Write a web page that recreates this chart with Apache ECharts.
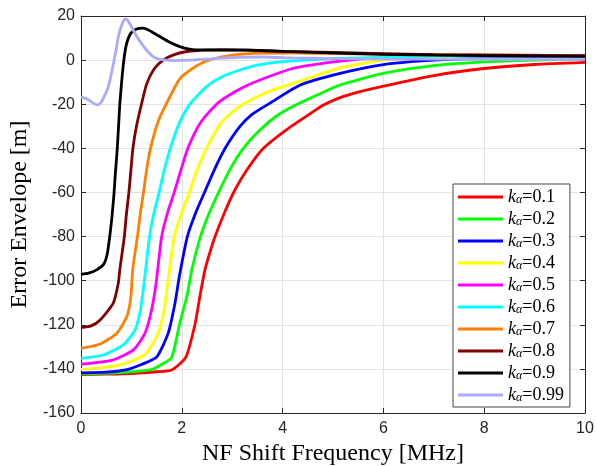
<!DOCTYPE html>
<html>
<head>
<meta charset="utf-8">
<script src="https://cdn.jsdelivr.net/npm/echarts@6/dist/echarts.min.js"></script>
<style>html,body{margin:0;padding:0;background:#fff}#c{width:596px;height:466px}</style>
</head>
<body>
<div id="c"></div>
<script>
const xTicks = [0, 2, 4, 6, 8, 10];
const yTicks = [-160, -140, -120, -100, -80, -60, -40, -20, 0, 20];
const kValues = ['0.1', '0.2', '0.3', '0.4', '0.5', '0.6', '0.7', '0.8', '0.9', '0.99'];
const colors = ['#ff0000', '#00ff00', '#0000ff', '#ffff00', '#ff00ff', '#00ffff', '#ff8000', '#800000', '#000000', '#aaaaff'];

const k01 = [[0,-142.6],[0.5,-142.4],[1,-142.1],[1.5,-141.3],[1.8,-140.5],[2.08,-134.7],[2.26,-120],[2.36,-107],[2.46,-95],[2.56,-87],[2.66,-80],[2.85,-69],[3.05,-59],[3.3,-49.5],[3.62,-40],[4.08,-31.5],[4.6,-23.5],[4.8,-20.5],[5.14,-17],[5.5,-14.5],[6,-11.8],[7,-7],[8,-3.8],[9,-2],[10,-1]];
const k02 = [[0,-142.3],[0.7,-141.8],[1.37,-140.5],[1.6,-138],[1.8,-134.7],[1.96,-119.3],[2.1,-107.2],[2.2,-95],[2.37,-80],[2.55,-69],[2.75,-59],[2.97,-49],[3.22,-40],[3.55,-31.7],[3.9,-25],[4.25,-20.5],[4.61,-16.6],[5.14,-11.3],[6,-6],[7,-2.5],[8,-0.8],[9,0],[10,0.5]];
const k03 = [[0,-141.8],[0.5,-141.5],[0.91,-140.3],[1.2,-138],[1.5,-134.7],[1.73,-123.8],[1.865,-110.2],[1.95,-98.2],[2.11,-80],[2.28,-69],[2.45,-60],[2.65,-49.5],[2.86,-40],[3.15,-30.2],[3.4,-24.5],[3.75,-19.5],[4.35,-11.3],[5.14,-6],[6,-2],[7,0],[8,0.8],[10,1.2]];
const k04 = [[0,-140.2],[0.4,-139.5],[0.77,-138.2],[1.05,-136],[1.3,-132.9],[1.53,-123.8],[1.65,-113.3],[1.72,-101.2],[1.85,-80],[2.0,-69],[2.15,-60],[2.3,-50],[2.49,-40],[2.76,-29],[3.0,-23.5],[3.22,-20],[3.6,-15.5],[3.95,-12.5],[4.61,-7.5],[5.14,-3.5],[6,0],[7,1.5],[8,2],[10,1.8]];
const k05 = [[0,-137.9],[0.64,-135.9],[1.04,-131.4],[1.27,-123.8],[1.4,-113.3],[1.49,-101.2],[1.6,-80],[1.72,-69],[1.85,-60],[1.98,-50],[2.12,-40],[2.36,-28.7],[2.69,-20],[2.89,-16.6],[3.2,-12.5],[3.55,-9],[4.2,-3.8],[5.14,-0.5],[6,1.3],[7,2],[10,2]];
const k06 = [[0,-135.2],[0.44,-133.7],[0.84,-129.1],[1.07,-122.4],[1.18,-113.3],[1.25,-101.2],[1.36,-80],[1.45,-69],[1.55,-60],[1.65,-50],[1.77,-40],[1.96,-28],[2.16,-20],[2.49,-12],[2.8,-7.5],[3.15,-4.5],[3.5,-2.3],[3.95,-0.8],[5.14,0.8],[7,1.8],[10,2]];
const k07 = [[0,-130.7],[0.38,-128.7],[0.71,-123.8],[0.91,-116.3],[0.99,-107.2],[1.025,-95],[1.12,-80],[1.18,-69],[1.24,-60],[1.3,-50],[1.38,-40],[1.52,-28.5],[1.69,-20],[1.96,-8.5],[2.2,-4],[2.43,-1],[2.75,1.3],[3.09,2.5],[3.68,3.3],[5,3],[7,2.5],[10,2]];
const k08 = [[0,-121.3],[0.2,-120.5],[0.38,-117.8],[0.64,-110.2],[0.74,-101.2],[0.77,-95],[0.86,-80],[0.9,-70],[0.95,-60],[0.99,-50],[1.03,-40],[1.1,-30],[1.2,-20],[1.3,-11],[1.45,-4],[1.63,0],[1.85,2.5],[2.1,3.9],[2.5,4.5],[2.82,4.6],[3.3,4.5],[4,4],[5,3.5],[7,2.5],[10,2]];
const k09 = [[0,-97.1],[0.15,-96.6],[0.31,-95.1],[0.45,-92.5],[0.52,-88],[0.57,-80],[0.61,-72],[0.65,-62],[0.68,-52],[0.72,-40],[0.75,-28],[0.77,-20],[0.81,-9],[0.85,0],[0.9,7],[0.97,11.5],[1.05,13.5],[1.15,14.4],[1.22,14.5],[1.3,14.1],[1.45,12.2],[1.57,10.6],[1.75,8.2],[1.96,6.1],[2.15,5],[2.36,4.6],[3,4.6],[3.5,4.4],[4.5,3.6],[6,2.6],[8,2],[10,1.6]];
const k099 = [[0,-16.8],[0.12,-17.6],[0.24,-19.5],[0.33,-20.3],[0.4,-19.2],[0.47,-16],[0.53,-13],[0.58,-8.5],[0.64,-2],[0.7,5],[0.74,10.5],[0.8,15.5],[0.87,18.7],[0.92,18.2],[0.98,16],[1.05,13],[1.17,8.5],[1.3,4.6],[1.43,1.6],[1.57,0.3],[1.8,-0.2],[2.2,0],[2.6,0.6],[3.1,1.3],[3.6,1.4],[4.2,1],[5,0.7],[6,0.5],[8,0.4],[10,0.4]];
const seriesValues = [k01, k02, k03, k04, k05, k06, k07, k08, k09, k099];

const chart = echarts.init(document.getElementById('c'), null, {renderer: 'canvas'});
const axisCol = '#262626';
const labelFont = {color: '#262626', fontFamily: 'Liberation Sans', fontSize: 16};
const nameFont = {color: '#000', fontFamily: 'Liberation Serif', fontSize: 24};

const option = {
  animation: false,
  backgroundColor: '#fff',
  grid: {left: 81, right: 11, top: 16, bottom: 53, containLabel: false, outerBoundsMode: 'none'},
  xAxis: [{
    type: 'value', min: xTicks[0], max: xTicks[xTicks.length - 1], interval: 2,
    name: 'NF Shift Frequency [MHz]', nameLocation: 'middle', nameGap: 27,
    nameTextStyle: nameFont,
    axisLine: {show: true, onZero: false, lineStyle: {color: axisCol, width: 1}},
    axisTick: {show: true, inside: true, length: 5, lineStyle: {color: axisCol}},
    axisLabel: Object.assign({margin: 8}, labelFont),
    splitLine: {show: true, lineStyle: {color: '#e3e3e3', width: 1}}
  }, {
    type: 'value', position: 'top', min: xTicks[0], max: xTicks[xTicks.length - 1], interval: 2,
    axisLine: {show: true, onZero: false, lineStyle: {color: axisCol, width: 1}},
    axisTick: {show: true, inside: true, length: 5, lineStyle: {color: axisCol}},
    axisLabel: {show: false}, splitLine: {show: false}
  }],
  yAxis: [{
    type: 'value', min: yTicks[0], max: yTicks[yTicks.length - 1], interval: 20,
    name: 'Error Envelope [m]', nameLocation: 'middle', nameGap: 45,
    nameTextStyle: nameFont,
    axisLine: {show: true, onZero: false, lineStyle: {color: axisCol, width: 1}},
    axisTick: {show: true, inside: true, length: 5, lineStyle: {color: axisCol}},
    axisLabel: Object.assign({margin: 6}, labelFont),
    splitLine: {show: true, lineStyle: {color: '#e3e3e3', width: 1}}
  }, {
    type: 'value', position: 'right', min: yTicks[0], max: yTicks[yTicks.length - 1], interval: 20,
    axisLine: {show: true, onZero: false, lineStyle: {color: axisCol, width: 1}},
    axisTick: {show: true, inside: true, length: 5, lineStyle: {color: axisCol}},
    axisLabel: {show: false}, splitLine: {show: false}
  }],
  legend: {
    orient: 'vertical', left: 453, top: 184,
    backgroundColor: '#fff', borderColor: '#444', borderWidth: 1,
    padding: [4, 6, 3, 5], itemGap: 4, itemWidth: 45, itemHeight: 3,
    icon: 'rect',
    data: kValues.map(v => ({name: v})),
    formatter: function (name) { return '{k|k}{a|α}{t|=' + name + '}'; },
    textStyle: {
      color: '#000', fontFamily: 'Liberation Serif', fontSize: 18, lineHeight: 17,
      rich: {
        k: {fontFamily: 'Liberation Serif', fontStyle: 'italic', fontSize: 18, lineHeight: 17, color: '#000'},
        a: {fontFamily: 'Liberation Serif', fontStyle: 'italic', fontSize: 12, lineHeight: 10, verticalAlign: 'bottom', color: '#000'},
        t: {fontFamily: 'Liberation Serif', fontSize: 18, lineHeight: 17, color: '#000'}
      }
    }
  },
  series: kValues.map((v, i) => ({
    name: v, type: 'line', xAxisIndex: 0, yAxisIndex: 0,
    data: seriesValues[i], showSymbol: false, symbol: 'none',
    smooth: 0.2,
    color: colors[i],
    lineStyle: {color: colors[i], width: 2.8},
    emphasis: {disabled: true}
  }))
};
chart.setOption(option);
</script>
</body>
</html>
